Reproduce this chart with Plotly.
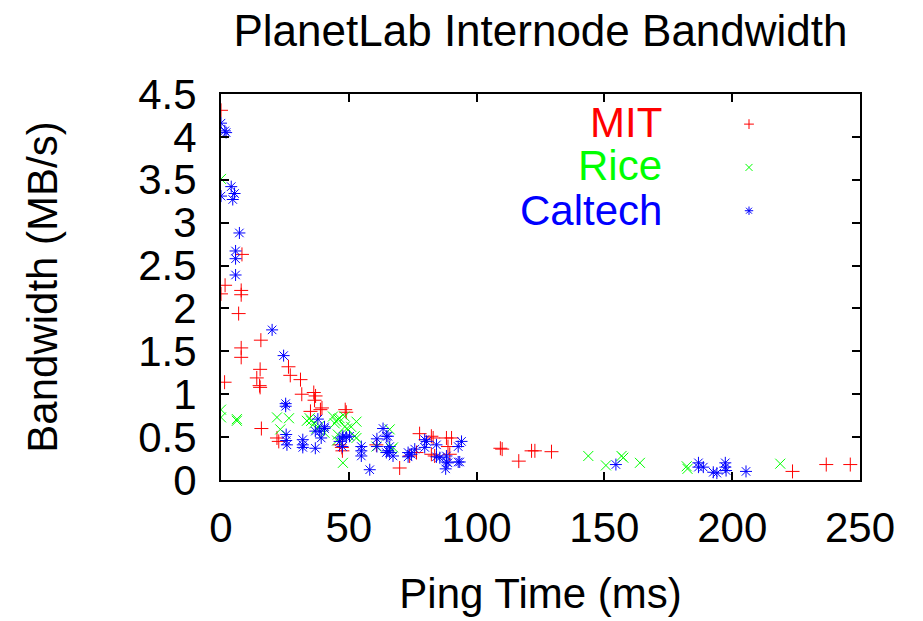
import plotly.graph_objects as go

# ---- data (ping ms, bandwidth MB/s) ----
mit_x = [0, 1.6, 0, 7.9, 7.9, 8.2, 6.9, 15.6, 7.9, 7.9, 26.4, 15.3, 27.1, 14.0, 1.4, 31.1,
         15.1, 15.3, 36.3, 37.0, 31.6, 36.6, 39.5, 38.9, 35.0, 48.6, 49.0, 15.8, 21.9, 22.6,
         47.3, 46.4, 47.5, 60.8, 69.9, 73.8, 76.5, 77.7, 82.3, 83.0, 88.2, 90.2, 88.8, 82.3,
         83.6, 89.5, 109.3, 110.0, 116.5, 121.5, 122.8, 129.3, 223.6, 236.8, 246.2]
mit_y = [4.31, 2.27, 2.17, 2.21, 2.16, 2.63, 1.94, 1.63, 1.54, 1.43, 1.32, 1.29, 1.22, 1.19, 1.14, 1.17,
         1.10, 1.08, 1.02, 0.98, 1.00, 0.93, 0.84, 0.82, 0.80, 0.82, 0.79, 0.60, 0.49, 0.45,
         0.38, 0.41, 0.34, 0.41, 0.14, 0.28, 0.32, 0.54, 0.51, 0.49, 0.49, 0.49, 0.39, 0.30,
         0.28, 0.30, 0.37, 0.36, 0.22, 0.34, 0.34, 0.33, 0.10, 0.18, 0.18]

rice_x = [0, 0, 0, 6.2, 6.2, 21.9, 26.6, 23.2, 34.7, 35.3, 33.6, 37.3, 40.5, 36.5, 38.5,
          43.8, 45.8, 45.1, 46.4, 44.5, 47.7, 45.4, 49.3, 48.4, 53.0, 48.4, 50.9, 53.0, 52.3,
          45.7, 60.8, 66.0, 66.7, 67.3, 143.7, 150.6, 156.7, 157.4, 163.9, 182.2, 182.5, 218.8]
rice_y = [3.51, 0.82, 0.73, 0.71, 0.69, 0.73, 0.72, 0.59, 0.72, 0.69, 0.69, 0.60, 0.55, 0.66, 0.63,
          0.74, 0.71, 0.68, 0.72, 0.66, 0.20, 0.46, 0.60, 0.74, 0.68, 0.62, 0.62, 0.49, 0.51,
          0.53, 0.39, 0.59, 0.36, 0.38, 0.28, 0.17, 0.28, 0.26, 0.20, 0.16, 0.13, 0.19]

caltech_x = [0, 1.5, 2.0, 0, 4.0, 5.3, 4.6, 7.2, 5.7, 5.7, 5.7, 20.0, 24.5, 25.3, 25.3,
             25.5, 25.5, 25.8, 32.0, 32.0, 32.0, 36.9, 37.9, 40.5, 40.5, 36.9, 38.6, 39.2,
             47.5, 47.5, 49.0, 50.3, 47.7, 46.4, 54.9, 54.9, 54.9, 58.2, 63.4, 64.7, 65.3,
             61.0, 61.0, 65.3, 66.0, 66.0, 67.3, 64.7, 73.2, 73.2, 74.5, 75.8, 79.7, 80.4,
             79.7, 84.3, 94.1, 92.8, 84.3, 85.6, 88.2, 88.2, 88.8, 87.9, 92.8, 93.4, 154.5,
             186.8, 186.8, 188.7, 192.6, 194.0, 197.3, 197.3, 197.6, 205.4]
caltech_y = [4.16, 4.07, 4.05, 3.31, 3.42, 3.34, 3.27, 2.88, 2.67, 2.58, 2.39, 1.75, 1.45, 0.89, 0.86,
             0.53, 0.46, 0.41, 0.47, 0.41, 0.38, 0.37, 0.71, 0.62, 0.60, 0.57, 0.57, 0.49,
             0.49, 0.39, 0.50, 0.51, 0.51, 0.45, 0.39, 0.34, 0.28, 0.12, 0.60, 0.51, 0.51,
             0.48, 0.39, 0.34, 0.39, 0.32, 0.28, 0.32, 0.32, 0.27, 0.30, 0.36, 0.47, 0.45,
             0.38, 0.41, 0.45, 0.39, 0.27, 0.26, 0.28, 0.21, 0.20, 0.13, 0.21, 0.21, 0.18,
             0.20, 0.15, 0.15, 0.09, 0.08, 0.20, 0.15, 0.11, 0.10]

series_names = ["MIT", "Rice", "Caltech"]
series_colors = ["#ff0000", "#00ff00", "#0000ff"]
series_symbols = ["cross-thin-open", "x-thin-open", "asterisk-open"]

x_ticks = [0, 50, 100, 150, 200, 250]
y_ticks = [0, 0.5, 1, 1.5, 2, 2.5, 3, 3.5, 4, 4.5]
y_tick_labels = ["0", "0.5", "1", "1.5", "2", "2.5", "3", "3.5", "4", "4.5"]

FONT = "Liberation Sans, Arial, Helvetica, sans-serif"
FS = 42

fig = go.Figure()
for name, xs, ys, col, sym in zip(series_names,
                                  [mit_x, rice_x, caltech_x],
                                  [mit_y, rice_y, caltech_y],
                                  series_colors, series_symbols):
    fig.add_trace(go.Scatter(
        x=xs, y=ys, mode="markers", name=name, showlegend=False,
        marker=dict(symbol=sym, size=10, color=col, line=dict(color=col, width=1)),
    ))
    # legend key only (small symbol, no data)
    fig.add_trace(go.Scatter(
        x=[None], y=[None], mode="markers", name=" ", showlegend=True,
        marker=dict(symbol=sym, size=7, color=col, line=dict(color=col, width=1)),
        hoverinfo="skip",
    ))

# legend text (right aligned, left of the symbol keys)
legend_y = [0.926, 0.814, 0.699]
for name, col, yy in zip(series_names, series_colors, legend_y):
    fig.add_annotation(text=name, xref="paper", yref="paper", x=0.694, y=yy,
                       xanchor="right", yanchor="middle", showarrow=False,
                       font=dict(family=FONT, size=FS, color=col))

axis_common = dict(showline=True, linecolor="black", linewidth=2, mirror="ticks",
                   ticks="inside", ticklen=8, tickwidth=1.5, tickcolor="black",
                   showgrid=False, zeroline=False,
                   tickfont=dict(family=FONT, size=FS, color="black"))

fig.update_layout(
    width=923, height=621,
    margin=dict(l=221, r=63, t=94, b=135),
    paper_bgcolor="white", plot_bgcolor="white",
    title=dict(text="PlanetLab Internode Bandwidth", x=0.5, xref="paper",
               y=1 - 31 / 621, yref="container", xanchor="center", yanchor="middle",
               font=dict(family=FONT, size=44, color="black")),
    xaxis=dict(range=[0, 250], tickvals=x_ticks, ticklabelstandoff=10,
               title=dict(text="Ping Time (ms)", standoff=28,
                          font=dict(family=FONT, size=FS, color="black")),
               **axis_common),
    yaxis=dict(range=[0, 4.5], tickvals=y_ticks, ticktext=y_tick_labels,
               ticklabelstandoff=14,
               title=dict(text="Bandwidth (MB/s)", standoff=68,
                          font=dict(family=FONT, size=FS, color="black")),
               **axis_common),
    showlegend=True,
    legend=dict(x=0.795, y=0.991, xanchor="left", yanchor="top",
                bgcolor="rgba(0,0,0,0)", font=dict(family=FONT, size=31),
                itemsizing="trace", tracegroupgap=0),
)

fig.write_html("out.html")
